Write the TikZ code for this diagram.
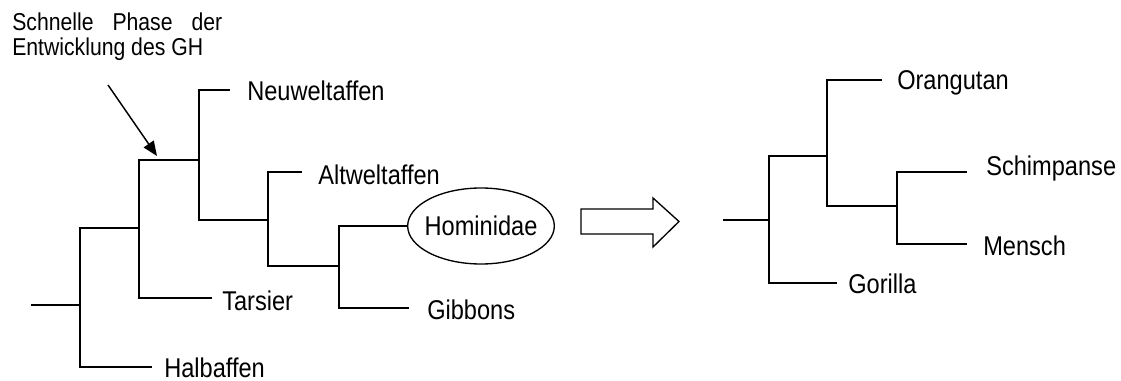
\documentclass[tikz,border=0pt]{standalone}
\usepackage{fontspec}
\setmainfont{Liberation Sans}
\usetikzlibrary{arrows.meta,shapes.geometric}
% slightly taller lettering
\newcommand\tallbox[1]{\scalebox{1}[1.15]{#1}}
\begin{document}
\begin{tikzpicture}[x=0.75pt,y=-0.75pt,
  branch/.style={line width=1.3pt, line join=miter},
  taxon/.style={anchor=base west, inner sep=0pt, font=\fontsize{17.7}{21}\selectfont},
  outline/.style={line width=1pt, line join=miter},
]
\useasboundingbox (0,0) rectangle (1121,381);

% annotation with pointer to the fast phase
\node[anchor=north west, inner sep=0pt, align=left,
      font=\fontsize{15.9}{18.75}\selectfont] (note) at (12,13)
  {\tallbox{\makebox[157.5pt][s]{Schnelle Phase der}}\\\tallbox{Entwicklung des GH}};
\coordinate (notetail) at (108,85);
\coordinate (notetip) at (157,156);
\draw[line width=1.1pt, -{Triangle[length=11pt,width=9pt]}] (notetail) -- (notetip);

% ---- left tree ----
\coordinate (stubL) at (31,305);
\coordinate (A) at (80,305);
\coordinate (B) at (139,228);
\coordinate (C) at (199,160);
\coordinate (D) at (268,220);
\coordinate (E) at (339,266);

\coordinate (halbEnd) at (152,367);
\coordinate (tarsEnd) at (212,298);
\coordinate (neuEnd) at (230,90);
\coordinate (altEnd) at (302,172);
\coordinate (gibEnd) at (409,308);

% the ellipse size is fixed by its minimum size, not by the word inside
\node[ellipse, draw, outline, minimum width=110pt, minimum height=57pt,
      inner sep=0pt, font=\fontsize{17.7}{21}\selectfont] (hom) at (481,226)
  {\makebox[0pt]{\tallbox{Hominidae}}};

\node[taxon] (halb) at (164,377) {\tallbox{Halbaffen}};
\node[taxon] (tars) at (222,310) {\tallbox{Tarsier}};
\node[taxon] (neu) at (247,101) {\tallbox{Neuweltaffen}};
\node[taxon] (alt) at (318,185) {\tallbox{Altweltaffen}};
\node[taxon] (gib) at (427,319) {\tallbox{Gibbons}};

\draw[branch] (stubL) -- (A);
\draw[branch] (B) -| (A);
\draw[branch] (A) |- (halbEnd);
\draw[branch] (C) -| (B);
\draw[branch] (B) |- (tarsEnd);
\draw[branch] (C) |- (neuEnd);
\draw[branch] (C) |- (D);
\draw[branch] (D) |- (altEnd);
\draw[branch] (D) |- (E);
\draw[branch] (E) |- (hom.west);
\draw[branch] (E) |- (gibEnd);

% ---- block arrow ----
\draw[outline] (581,209) -- (653,209) -- (653,198) -- (679,221.5)
  -- (653,247) -- (653,234) -- (581,234) -- cycle;

% ---- right tree ----
\coordinate (stubR) at (723,220);
\coordinate (RA) at (769,220);
\coordinate (RB) at (827,156);
\coordinate (RC) at (897,206);

\coordinate (gorEnd) at (837,283);
\coordinate (oraEnd) at (882,80);
\coordinate (schEnd) at (967,172);
\coordinate (menEnd) at (967,244);

\node[taxon] (ora) at (897,90) {\tallbox{Orangutan}};
\node[taxon] (sch) at (986,176) {\tallbox{Schimpanse}};
\node[taxon] (men) at (983,255) {\tallbox{Mensch}};
\node[taxon] (gor) at (848,293) {\tallbox{Gorilla}};

\draw[branch] (stubR) -- (RA);
\draw[branch] (RB) -| (RA);
\draw[branch] (RA) |- (gorEnd);
\draw[branch] (RB) |- (oraEnd);
\draw[branch] (RB) |- (RC);
\draw[branch] (RC) |- (schEnd);
\draw[branch] (RC) |- (menEnd);
\end{tikzpicture}
\end{document}
